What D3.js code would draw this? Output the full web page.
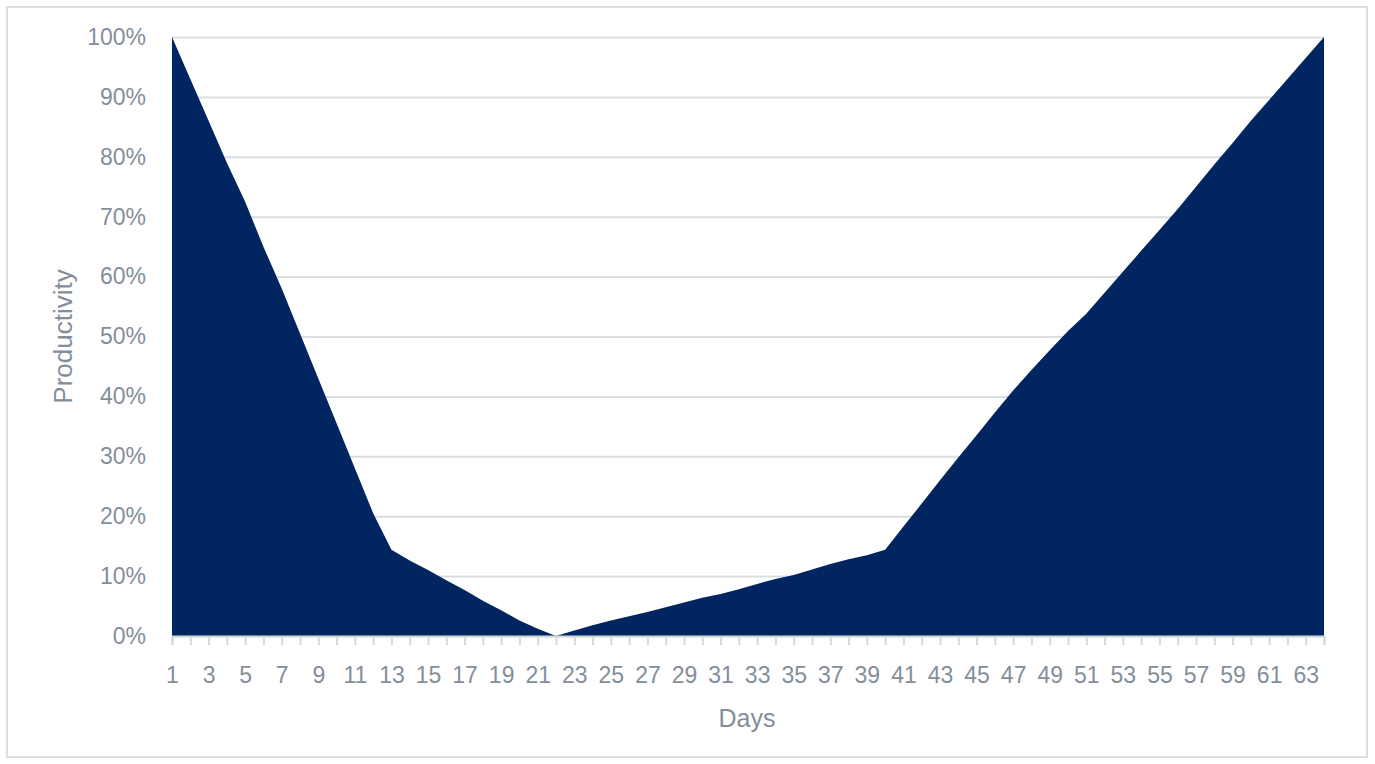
<!DOCTYPE html>
<html>
<head>
<meta charset="utf-8">
<script src="https://cdn.jsdelivr.net/npm/d3@7"></script>
<style>
  html, body { margin: 0; padding: 0; background: #fff; }
  svg { display: block; }
  text { font-family: "Liberation Sans", Arial, sans-serif; fill: #848e9a; }
</style>
</head>
<body>
<svg id="chart" width="1375" height="764"></svg>
<script>
// Days 1..64
const days = d3.range(1, 65);
// Productivity (%) per day
const productivity = [
  100, 93, 86, 79, 72.5, 65, 58, 50.5, 43, 35.5,
  28, 20.5, 14.4, 12.6, 11.0, 9.3, 7.7, 5.9, 4.3, 2.6,
  1.2, 0, 0.9, 1.8, 2.6, 3.3, 4.0, 4.8, 5.6, 6.4,
  7.0, 7.8, 8.7, 9.5, 10.2, 11.1, 12.0, 12.8, 13.5, 14.4,
  18.3, 22.1, 26.0, 29.8, 33.5, 37.3, 41.0, 44.4, 47.7, 50.9,
  53.8, 57.3, 60.8, 64.3, 67.8, 71.3, 75.0, 78.7, 82.3, 86.0,
  89.5, 93.0, 96.5, 100
];
const yTicks = [0, 10, 20, 30, 40, 50, 60, 70, 80, 90, 100];
const xTitle = "Days";
const yTitle = "Productivity";

const svg = d3.select("#chart");
const m = { left: 172, right: 1324, top: 37, bottom: 636 };

// outer border
svg.append("rect")
  .attr("x", 7).attr("y", 7)
  .attr("width", 1360).attr("height", 750)
  .attr("fill", "none").attr("stroke", "#dadde1").attr("stroke-width", 2);

const x = d3.scaleLinear().domain([1, 64]).range([m.left, m.right]);
const y = d3.scaleLinear().domain([0, 100]).range([m.bottom, m.top]);

// gridlines
const grid = svg.append("g")
  .attr("transform", `translate(${m.left},0)`)
  .call(d3.axisLeft(y).tickValues(yTicks).tickSize(-(m.right - m.left)).tickFormat(""));
grid.select(".domain").remove();
grid.selectAll("line").attr("stroke", "#dadee2").attr("stroke-width", 2);

// y labels
const yAxis = svg.append("g")
  .attr("transform", `translate(${m.left},0)`)
  .call(d3.axisLeft(y).tickValues(yTicks).tickSize(0).tickPadding(26).tickFormat(d => d + "%"));
yAxis.select(".domain").remove();
yAxis.selectAll("text")
  .style("font-size", "23px")
  .attr("fill", "#848e9a");

// area
const data = days.map((d, i) => ({ d, v: productivity[i] }));
svg.append("path")
  .datum(data)
  .attr("fill", "#002561")
  .attr("d", d3.area().x(p => x(p.d)).y0(y(0)).y1(p => y(p.v)));

// x axis
const xAxis = svg.append("g")
  .attr("transform", `translate(0,${m.bottom})`)
  .call(d3.axisBottom(x).tickValues(days).tickSize(9).tickPadding(22)
    .tickFormat(d => (d % 2 === 1 ? d : "")));
xAxis.select(".domain").attr("stroke", "#d5d9de").attr("stroke-width", 2);
xAxis.selectAll("line").attr("stroke", "#d5d9de").attr("stroke-width", 2);
xAxis.selectAll("text")
  .style("font-size", "23px")
  .attr("fill", "#848e9a");

// titles
svg.append("text")
  .attr("x", 747)
  .attr("y", 727)
  .attr("text-anchor", "middle")
  .style("font-size", "25px")
  .text(xTitle);

svg.append("text")
  .attr("transform", `translate(72,${(m.top + m.bottom) / 2}) rotate(-90)`)
  .attr("text-anchor", "middle")
  .style("font-size", "26px")
  .text(yTitle);
</script>
</body>
</html>
